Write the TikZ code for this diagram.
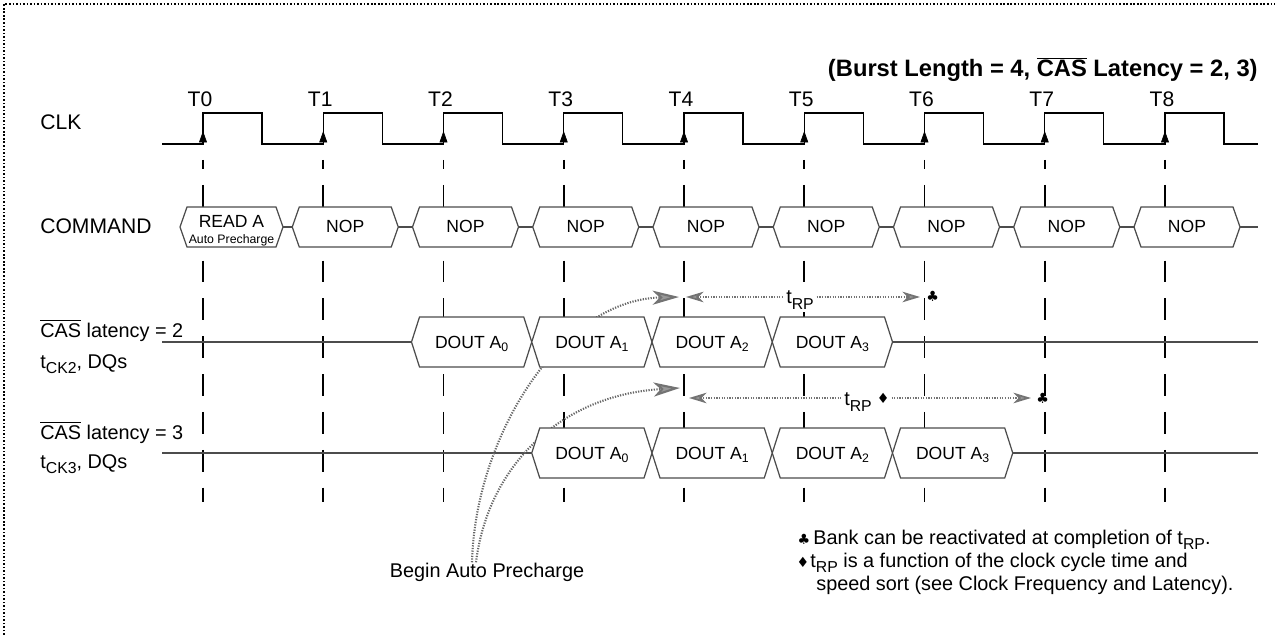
\documentclass[tikz,border=0pt]{standalone}
\usepackage{fontspec}
\setmainfont{Liberation Sans}
\newfontfamily\symfont{DejaVu Sans}
\usetikzlibrary{arrows.meta}

\newcommand{\lowidx}[1]{\raisebox{-0.4ex}{\scriptsize #1}}
\newcommand{\tsub}[1]{t\raisebox{-0.5ex}{\fontsize{9}{9}\selectfont #1}}
\newcommand{\ncas}{$\overline{\mbox{CAS}}$}

\tikzset{
  lbl/.style={font=\fontsize{12}{14}\selectfont, inner sep=0pt},
  note/.style={font=\fontsize{11.3}{13}\selectfont, inner sep=0pt},
  boxtxt/.style={font=\fontsize{10}{12}\selectfont, inner sep=0pt},
  sym/.style={font=\symfont\fontsize{8}{9}\selectfont, inner sep=0pt},
  sig/.style={line width=0.7pt, black!70},
  clk/.style={line width=0.8pt},
  tick/.style={line width=1.1pt, dash pattern=on 12.47pt off 9.07pt, dash phase=7.37pt},
  bus/.style={line width=0.7pt, draw=black!70, fill=white},
  prech/.style={line width=1.2pt, black!60, dash pattern=on 0.7pt off 0.8pt},
  rp/.style={line width=1pt, black!55, dash pattern=on 0.7pt off 0.8pt},
  bighead/.style={-{Stealth[length=15pt,width=8pt,inset=4pt,fill=black!40,color=black!55]}},
  headR/.style={-{Stealth[length=10pt,width=6pt,inset=3pt,fill=black!40,color=black!55]}},
  headL/.style={{Stealth[length=10pt,width=6pt,inset=3pt,fill=black!40,color=black!55]}-},
}

\begin{document}
\begin{tikzpicture}[x=0.02cm, y=-0.02cm]
\useasboundingbox (0,0) rectangle (1275,635);

\draw[line width=0.9pt, dash pattern=on 0.9pt off 1.1pt] (4,635) -- (4,4) -- (1275,4);

\node[lbl, font=\bfseries\fontsize{13.5}{15}\selectfont, anchor=base east] (title) at (1258,77) {(Burst Length = 4, \ncas{} Latency = 2, 3)};

\node[lbl, anchor=base west] (clk) at (40,130) {CLK};
\node[lbl, anchor=base west] (cmd) at (40,234) {COMMAND};
\node[note, anchor=base west] (cas2) at (40,337) {\ncas{} latency = 2};
\node[note, anchor=base west] (dq2) at (40,368) {\tsub{CK2}, DQs};
\node[note, anchor=base west] (cas3) at (40,439) {\ncas{} latency = 3};
\node[note, anchor=base west] (dq3) at (40,468) {\tsub{CK3}, DQs};

\draw[clk] (162,144) \foreach \k in {0,...,8} { -- ({203+120.25*\k},144) -- ({203+120.25*\k},113) -- ({262+120.25*\k},113) -- ({262+120.25*\k},144) } -- (1258,144);

\foreach \k in {0,...,8} {
  \draw[tick] ({203+120.25*\k},160) -- ({203+120.25*\k},502);
  \draw[-{Triangle[length=6.5pt,width=4.5pt]}] ({203+120.25*\k},144) -- ({203+120.25*\k},131);
  \node[lbl, anchor=base] (t\k) at ({200+120.25*\k},107) {T\k};
}

\draw[sig] (283,227) -- (1258,227);
\draw[sig] (162,342) -- (1258,342);
\draw[sig] (162,453) -- (1258,453);

\node[note, anchor=base] (begin) at (487,577) {Begin Auto Precharge};
\coordinate (p2) at (679,297);
\coordinate (p3) at (680,388);
\draw[prech, bighead] ([xshift=-0.3cm]begin.north) .. controls +(3,-125) and +(-119,3) .. (p2);
\draw[prech, bighead] ([xshift=-0.22cm]begin.north) .. controls +(12,-96) and +(-120,7) .. (p3);

\draw[bus] (180,227) -- (187,207) -- (276,207) -- (283,227) -- (276,247) -- (187,247) -- cycle;
\node[boxtxt, anchor=base] (cmd0) at (231.5,227) {READ A};
\node[font=\fontsize{7}{8}\selectfont, inner sep=0pt, anchor=base] (ap) at (231.5,243) {Auto Precharge};

\foreach \k in {1,...,8} {
  \pgfmathsetmacro\xa{172+120.25*\k}
  \pgfmathsetmacro\xb{278+120.25*\k}
  \draw[bus] (\xa,227) -- (\xa+7,207) -- (\xb-7,207) -- (\xb,227) -- (\xb-7,247) -- (\xa+7,247) -- cycle;
  \node[boxtxt, anchor=base] (cmd\k) at ({(\xa+\xb)/2},233) {NOP};
}

\foreach \k/\j in {2/0,3/1,4/2,5/3} {
  \pgfmathsetmacro\xa{171+120.25*\k}
  \pgfmathsetmacro\xb{291.25+120.25*\k}
  \draw[bus] (\xa,342) -- (\xa+8,317) -- (\xb-8,317) -- (\xb,342) -- (\xb-8,367) -- (\xa+8,367) -- cycle;
  \node[boxtxt, anchor=base] (dqa\j) at ({(\xa+\xb)/2},348) {DOUT A\lowidx{\j}};
}

\foreach \k/\j in {3/0,4/1,5/2,6/3} {
  \pgfmathsetmacro\xa{171+120.25*\k}
  \pgfmathsetmacro\xb{291.25+120.25*\k}
  \draw[bus] (\xa,453) -- (\xa+8,428) -- (\xb-8,428) -- (\xb,453) -- (\xb-8,478) -- (\xa+8,478) -- cycle;
  \node[boxtxt, anchor=base] (dqb\j) at ({(\xa+\xb)/2},459) {DOUT A\lowidx{\j}};
}

\coordinate (s2) at (686,297);
\coordinate (e2) at (920,297);
\node[note, fill=white, inner sep=1.5pt] (rp2) at (800,300) {\tsub{RP}};
\draw[rp, headL] (s2) -- (rp2.west |- s2);
\draw[rp, headR] (rp2.east |- s2) -- (e2);
\node[sym, anchor=west] (club2) at (926,296) {♣};

\coordinate (s3) at (689,398);
\coordinate (e3) at (1031,398);
\node[note, fill=white, inner sep=1.5pt] (rp3) at (858,402) {\tsub{RP}};
\node[sym, fill=white, inner sep=1pt, anchor=west] (dia3) at (rp3.east |- s3) {♦};
\draw[rp, headL] (s3) -- (rp3.west |- s3);
\draw[rp, headR] (dia3.east |- s3) -- (e3);
\node[sym, anchor=west] (club3) at (1036,398) {♣};

\node[sym, anchor=base] (lgc) at (804,544) {♣};
\node[note, anchor=base west] (leg1) at (813,544) {Bank can be reactivated at completion of \tsub{RP}.};
\node[sym, anchor=base] (lgd) at (803,567) {♦};
\node[note, anchor=base west] (leg2) at (810,567) {\tsub{RP} is a function of the clock cycle time and};
\node[note, anchor=base west] (leg3) at (816,590) {speed sort (see Clock Frequency and Latency).};

\end{tikzpicture}
\end{document}
